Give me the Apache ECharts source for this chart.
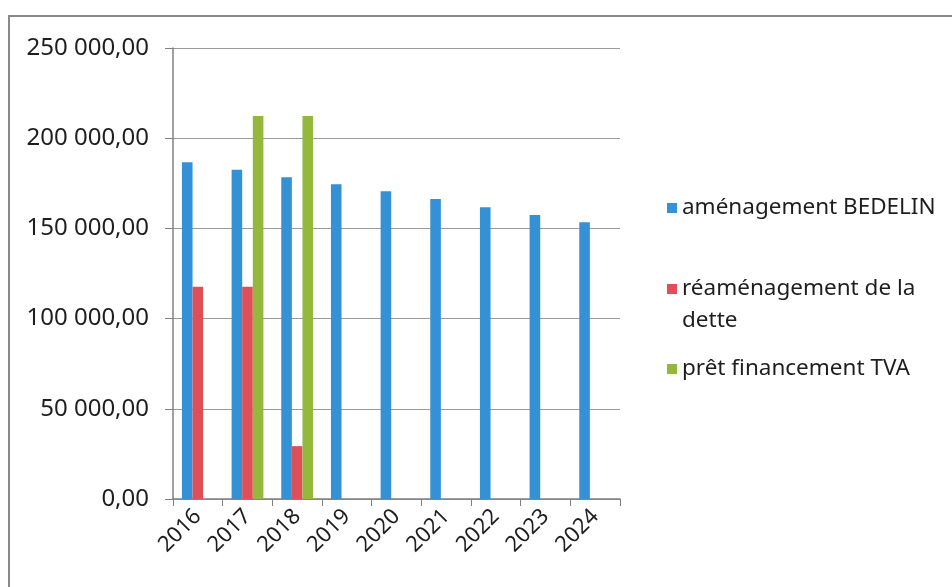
<!DOCTYPE html>
<html>
<head>
<meta charset="utf-8">
<script src="https://cdn.jsdelivr.net/npm/echarts@6/dist/echarts.min.js"></script>
<style>
  html, body { margin: 0; padding: 0; background: #fff; }
  #frame {
    position: absolute; left: 8px; top: 15px; width: 960px; height: 600px;
    border-top: 2px solid #8a8a8a; border-left: 2px solid #8a8a8a;
  }
  #main { position: absolute; left: 0; top: 0; width: 952px; height: 587px; }
</style>
</head>
<body>
<div id="frame"></div>
<div id="main"></div>
<script>
// années
var years = ["2016", "2017", "2018", "2019", "2020", "2021", "2022", "2023", "2024"];
// séries
var bedelin = [186600, 182500, 178300, 174500, 170600, 166300, 161700, 157400, 153400];
var dette = [117700, 117700, 29300, null, null, null, null, null, null];
var tva = [null, 212300, 212300, null, null, null, null, null, null];
var seriesNames = ["aménagement BEDELIN", "réaménagement de la dette", "prêt financement TVA"];
var yTicks = [0, 50000, 100000, 150000, 200000, 250000];

function fmt(v) {
  // 250000 -> "250 000,00"
  var s = String(Math.round(v));
  s = s.replace(/\B(?=(\d{3})+(?!\d))/g, " ");
  return s + ",00";
}

var font = "'Noto Sans', 'DejaVu Sans', sans-serif";
var legendText = { fontFamily: font, fontSize: 22.5, color: "#1e1e1e", lineHeight: 32 };

var option = {
  animation: false,
  color: ["#3591d6", "#df4f5a", "#93b83c"],
  grid: { left: 173, right: 332, top: 48, bottom: 88 },
  legend: [
    {
      data: [seriesNames[0]], orient: "vertical", left: 667, top: 192, padding: 0,
      itemWidth: 10, itemHeight: 10, itemGap: 6, icon: "rect",
      textStyle: legendText
    },
    {
      // carré calé sur la première ligne du libellé sur deux lignes
      data: [seriesNames[1]], orient: "vertical", left: 667, top: 273, padding: 0,
      itemWidth: 10, itemHeight: 42, itemGap: 6,
      icon: "path://M0,0H10V10H0Z M0,41.9H0.1V42H0Z",
      formatter: function () { return "réaménagement de la\ndette"; },
      textStyle: legendText
    },
    {
      data: [seriesNames[2]], orient: "vertical", left: 667, top: 353, padding: 0,
      itemWidth: 10, itemHeight: 10, itemGap: 6, icon: "rect",
      textStyle: legendText
    }
  ],
  xAxis: {
    type: "category",
    data: years,
    axisLine: { lineStyle: { color: "#808080", width: 1.5 } },
    axisTick: { show: true, length: 7, lineStyle: { color: "#808080" } },
    axisLabel: {
      rotate: 45, margin: 14, fontFamily: font, fontSize: 22, color: "#1e1e1e"
    }
  },
  yAxis: {
    type: "value",
    min: 0, max: 250000, interval: 50000,
    axisLine: { show: true, lineStyle: { color: "#808080", width: 1.5 } },
    axisTick: { show: true, length: 8, lineStyle: { color: "#808080" } },
    splitLine: { lineStyle: { color: "#9a9a9a", width: 1.2 } },
    axisLabel: {
      margin: 24, fontFamily: font, fontSize: 24, color: "#1e1e1e",
      formatter: function (v) { return yTicks.indexOf(v) >= 0 ? fmt(v) : ""; }
    }
  },
  series: [
    { name: seriesNames[0], type: "bar", data: bedelin, barGap: 0, barCategoryGap: "36%" },
    { name: seriesNames[1], type: "bar", data: dette, barGap: 0, barCategoryGap: "36%" },
    { name: seriesNames[2], type: "bar", data: tva, barGap: 0, barCategoryGap: "36%" }
  ]
};

var myChart = echarts.init(document.getElementById("main"));
myChart.setOption(option);
</script>
</body>
</html>
